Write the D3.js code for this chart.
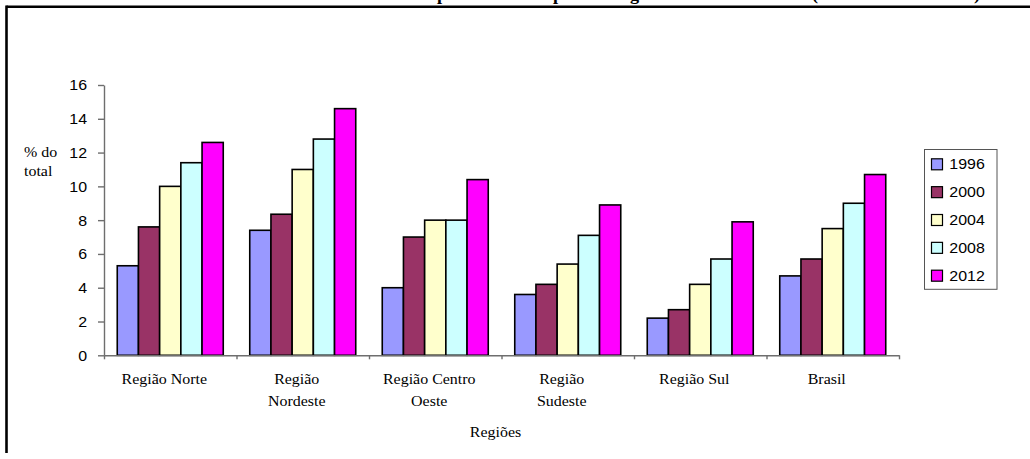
<!DOCTYPE html>
<html>
<head>
<meta charset="utf-8">
<script src="https://cdn.jsdelivr.net/npm/d3@7"></script>
<style>
  html, body { margin: 0; padding: 0; background: #fff; }
  svg { display: block; }
</style>
</head>
<body>
<svg id="chart" width="1030" height="459"></svg>
<script>
// Regions (x categories) and how each label wraps under the axis
const categories = ["Região Norte", "Região Nordeste", "Região Centro Oeste", "Região Sudeste", "Região Sul", "Brasil"];
const categoryLines = [["Região Norte"], ["Região", "Nordeste"], ["Região Centro", "Oeste"], ["Região", "Sudeste"], ["Região Sul"], ["Brasil"]];

// Survey years (series)
const years = ["1996", "2000", "2004", "2008", "2012"];

// % do total, one array per year, in category order
const v1996 = [5.3, 7.4, 4.0, 3.6, 2.2, 4.7];
const v2000 = [7.6, 8.35, 7.0, 4.2, 2.7, 5.7];
const v2004 = [10.0, 11.0, 8.0, 5.4, 4.2, 7.5];
const v2008 = [11.4, 12.8, 8.0, 7.1, 5.7, 9.0];
const v2012 = [12.6, 14.6, 10.4, 8.9, 7.9, 10.7];
const seriesValues = [v1996, v2000, v2004, v2008, v2012];

const yTicks = [0, 2, 4, 6, 8, 10, 12, 14, 16];
const colors = ["#9999FF", "#993366", "#FFFFCC", "#CCFFFF", "#FF00FF"];

// Title split into word groups so the line sits evenly across the top
const titleParts = ["Gráfico 1 – Percentual de", "pessoas muito", "pobres", "grandes áreas", "(Brasil – 1996 a 2012)"];

const svg = d3.select("#chart");
const SX = 1.14; // horizontal stretch applied to all text

// Frame (top and left edges)
svg.append("line").attr("x1", 6.5).attr("x2", 1030).attr("y1", 6.8).attr("y2", 6.8)
  .attr("stroke", "#000").attr("stroke-width", 2.6);
svg.append("line").attr("x1", 6.5).attr("x2", 6.5).attr("y1", 5.5).attr("y2", 453)
  .attr("stroke", "#000").attr("stroke-width", 2.6);

// Title, sitting above the frame
const titleX = [430, 437, 553, 630, 812];
const titleFont = "'Liberation Serif', 'Times New Roman', serif";
titleParts.forEach((t, i) => {
  svg.append("text")
    .attr("transform", `translate(${titleX[i]},-0.5) scale(${SX},1)`)
    .attr("text-anchor", i === 0 ? "end" : "start")
    .attr("font-family", titleFont)
    .attr("font-weight", "bold")
    .attr("font-size", 16)
    .text(t);
});

// Scales
const x0 = d3.scaleBand().domain(categories).range([104, 899]).paddingInner(0).paddingOuter(0);
const bw = x0.bandwidth();
const x1 = d3.scaleBand().domain(years).range([bw * 0.1, bw * 0.9]).padding(0);
const y = d3.scaleLinear().domain([0, 16]).range([355.3, 85]);
const xi = d3.scaleLinear().domain([0, categories.length]).range([104, 899]);

const axisColor = "#6e6e6e";

// Bars
const groups = svg.append("g").selectAll("g")
  .data(categories)
  .join("g")
  .attr("transform", d => `translate(${x0(d)},0)`);

groups.selectAll("rect")
  .data((c, ci) => years.map((yr, si) => ({ yr, si, v: seriesValues[si][ci] })))
  .join("rect")
  .attr("x", d => x1(d.yr))
  .attr("width", x1.bandwidth())
  .attr("y", d => y(d.v))
  .attr("height", d => y(0) - y(d.v))
  .attr("fill", d => colors[d.si])
  .attr("stroke", "#000")
  .attr("stroke-width", 1.6);

// Y axis
const yAxis = svg.append("g")
  .attr("transform", "translate(104,0)")
  .call(d3.axisLeft(y).tickValues(yTicks).tickSize(6).tickSizeOuter(0).tickPadding(14));
yAxis.select(".domain").attr("stroke", axisColor).attr("stroke-width", 1.4);
yAxis.selectAll(".tick line").attr("stroke", axisColor).attr("stroke-width", 1.4);
yAxis.selectAll(".tick text")
  .attr("font-family", "'Liberation Sans', Arial, sans-serif")
  .attr("font-size", 14)
  .attr("fill", "#000")
  .attr("x", null)
  .attr("dy", "0.35em")
  .attr("transform", `translate(-17,0) scale(${SX},1)`);

// X axis with ticks on the category boundaries
const xAxis = svg.append("g")
  .attr("transform", `translate(0,${y(0)})`)
  .call(d3.axisBottom(xi).ticks(categories.length).tickSize(4).tickSizeOuter(0).tickFormat(""));
xAxis.select(".domain").attr("stroke", axisColor).attr("stroke-width", 1.4);
xAxis.selectAll(".tick line").attr("stroke", axisColor).attr("stroke-width", 1.4);

// Category labels
const serif = "'Liberation Serif', 'Times New Roman', serif";
categories.forEach((c, i) => {
  const cx = x0(c) + bw / 2 - 6;
  categoryLines[i].forEach((line, li) => {
    svg.append("text")
      .attr("transform", `translate(${cx},${384.3 + li * 22}) scale(${SX},1)`)
      .attr("text-anchor", "middle")
      .attr("font-family", serif)
      .attr("font-size", 14)
      .text(line);
  });
});

// Axis titles
svg.append("text")
  .attr("transform", `translate(${(104 + 899) / 2 - 6},436.7) scale(${SX},1)`)
  .attr("text-anchor", "middle")
  .attr("font-family", serif)
  .attr("font-size", 14)
  .text("Regiões");

["% do", "total"].forEach((t, i) => {
  svg.append("text")
    .attr("transform", `translate(24,${157 + i * 18.5}) scale(${SX},1)`)
    .attr("font-family", serif)
    .attr("font-size", 14)
    .text(t);
});

// Legend
const legend = svg.append("g");
legend.append("rect")
  .attr("x", 924.5).attr("y", 149.5).attr("width", 72.5).attr("height", 139.8)
  .attr("fill", "#fff").attr("stroke", "#555").attr("stroke-width", 1);
const ly = d3.scalePoint().domain(years).range([164.3, 275.7]);
years.forEach((yr, i) => {
  legend.append("rect")
    .attr("x", 931.5).attr("y", ly(yr) - 5.5).attr("width", 11).attr("height", 11)
    .attr("fill", colors[i]).attr("stroke", "#000").attr("stroke-width", 1.2);
  legend.append("text")
    .attr("transform", `translate(949.3,${ly(yr) + 5}) scale(${SX},1)`)
    .attr("font-family", "'Liberation Sans', Arial, sans-serif")
    .attr("font-size", 14)
    .text(yr);
});
</script>
</body>
</html>
